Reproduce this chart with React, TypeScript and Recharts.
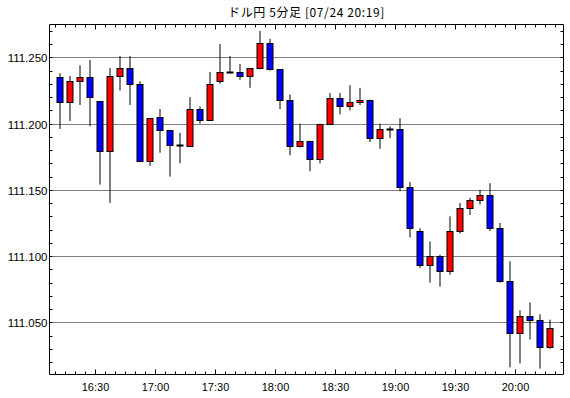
import { ComposedChart, Bar, XAxis, YAxis, CartesianGrid } from 'recharts';

// 5分足: 16:10 〜 20:15
const times = [
  '16:10', '16:15', '16:20', '16:25', '16:30', '16:35', '16:40', '16:45', '16:50', '16:55',
  '17:00', '17:05', '17:10', '17:15', '17:20', '17:25', '17:30', '17:35', '17:40', '17:45',
  '17:50', '17:55', '18:00', '18:05', '18:10', '18:15', '18:20', '18:25', '18:30', '18:35',
  '18:40', '18:45', '18:50', '18:55', '19:00', '19:05', '19:10', '19:15', '19:20', '19:25',
  '19:30', '19:35', '19:40', '19:45', '19:50', '19:55', '20:00', '20:05', '20:10', '20:15',
];
const opens = [
  111.235, 111.216, 111.232, 111.235, 111.217, 111.179, 111.236, 111.242, 111.230, 111.172,
  111.205, 111.195, 111.184, 111.183, 111.211, 111.203, 111.232, 111.239, 111.239, 111.236,
  111.242, 111.261, 111.241, 111.218, 111.183, 111.187, 111.173, 111.200, 111.219, 111.213,
  111.216, 111.218, 111.189, 111.196, 111.196, 111.152, 111.119, 111.093, 111.100, 111.089,
  111.119, 111.136, 111.142, 111.146, 111.121, 111.081, 111.042, 111.055, 111.052, 111.031,
];
const highs = [
  111.238, 111.236, 111.244, 111.248, 111.217, 111.242, 111.251, 111.251, 111.232, 111.204,
  111.211, 111.195, 111.193, 111.220, 111.213, 111.239, 111.260, 111.251, 111.245, 111.242,
  111.270, 111.264, 111.241, 111.222, 111.200, 111.187, 111.200, 111.223, 111.223, 111.229,
  111.227, 111.218, 111.200, 111.198, 111.204, 111.156, 111.121, 111.111, 111.101, 111.130,
  111.140, 111.144, 111.150, 111.155, 111.125, 111.096, 111.059, 111.065, 111.056, 111.052,
];
const lows = [
  111.196, 111.202, 111.214, 111.198, 111.154, 111.140, 111.225, 111.214, 111.171, 111.168,
  111.178, 111.160, 111.170, 111.183, 111.200, 111.203, 111.230, 111.238, 111.233, 111.227,
  111.241, 111.240, 111.211, 111.176, 111.182, 111.164, 111.170, 111.200, 111.207, 111.210,
  111.214, 111.186, 111.181, 111.189, 111.149, 111.114, 111.091, 111.080, 111.077, 111.086,
  111.117, 111.131, 111.139, 111.119, 111.080, 111.016, 111.019, 111.037, 111.015, 111.030,
];
const closes = [
  111.216, 111.232, 111.235, 111.220, 111.179, 111.236, 111.242, 111.230, 111.172, 111.204,
  111.195, 111.184, 111.184, 111.211, 111.203, 111.230, 111.239, 111.239, 111.236, 111.242,
  111.261, 111.241, 111.218, 111.183, 111.187, 111.173, 111.200, 111.219, 111.213, 111.216,
  111.218, 111.189, 111.196, 111.196, 111.152, 111.121, 111.093, 111.100, 111.089, 111.119,
  111.136, 111.142, 111.146, 111.121, 111.081, 111.042, 111.055, 111.052, 111.031, 111.046,
];
const timeLabels = ['16:30', '17:00', '17:30', '18:00', '18:30', '19:00', '19:30', '20:00'];
const priceLabels = [111.05, 111.1, 111.15, 111.2, 111.25];
const title = 'ドル円 5分足 [07/24 20:19]';

const Y_DOMAIN = [111.0106, 111.2748];
const X_DOMAIN = [7, 264];

const toMin = (s: string) => {
  const [h, m] = s.split(':').map(Number);
  return (h - 16) * 60 + m;
};

// ローソクの中心は足の開始時刻 + 2.5分
const data = times.map((t, i) => ({
  t: toMin(t) + 2.5,
  open: opens[i],
  high: highs[i],
  low: lows[i],
  close: closes[i],
}));

const xTicks: number[] = [];
for (let m = 10; m <= 260; m += 5) xTicks.push(m);
const majorX = timeLabels.map(toMin);

const yTicks: number[] = [];
for (let k = 11102; k <= 11127; k++) yTicks.push(k / 100);
const isMajorY = (v: number) => priceLabels.some(p => Math.abs(p - v) < 1e-6);

const FONT = '"Liberation Sans", Arial, sans-serif';

const fmtTime = (m: number) => {
  const h = 16 + Math.floor(m / 60);
  const mm = m % 60;
  return `${h}:${mm < 10 ? '0' + mm : mm}`;
};

const snap = (v: number) => Math.round(v) + 0.5;

const Candle = (props: any) => {
  const { x, y, width, height, payload } = props;
  const { open, high, low, close } = payload;
  const cx = x + width / 2;
  const top = Math.min(y, y + height);
  const h = Math.abs(height);
  const k = high > low ? h / (high - low) : 0;
  const yo = top + (high - open) * k;
  const yc = top + (high - close) * k;
  if (open === close) {
    return (
      <g>
        <line x1={cx} x2={cx} y1={top} y2={top + h} stroke="#000" strokeWidth={1} />
        <line x1={cx - 3.5} x2={cx + 3.5} y1={snap(yo)} y2={snap(yo)} stroke="#000" strokeWidth={2} />
      </g>
    );
  }
  const bTop = snap(Math.min(yo, yc));
  const bBot = snap(Math.max(yo, yc));
  return (
    <g>
      <line x1={cx} x2={cx} y1={top} y2={top + h} stroke="#000" strokeWidth={1} />
      <rect
        x={cx - 3}
        y={bTop}
        width={6}
        height={Math.max(bBot - bTop, 1)}
        fill={close > open ? '#ff0000' : '#0000ff'}
        stroke="#000"
        strokeWidth={1}
      />
    </g>
  );
};

const BottomTick = (props: any) => {
  const { x, y, payload } = props;
  const major = majorX.includes(payload.value);
  return (
    <g>
      <line x1={x} x2={x} y1={y} y2={y - (major ? 5 : 3)} stroke="#000" />
      {major && (
        <text x={x} y={y + 16} textAnchor="middle" fontSize={11} fontFamily={FONT} fill="#000">
          {fmtTime(payload.value)}
        </text>
      )}
    </g>
  );
};

const TopTick = (props: any) => {
  const { x, y, payload } = props;
  const major = majorX.includes(payload.value);
  return <line x1={x} x2={x} y1={y} y2={y + (major ? 5 : 3)} stroke="#000" />;
};

const LeftTick = (props: any) => {
  const { x, y, payload } = props;
  const major = isMajorY(payload.value);
  const yy = snap(y);
  return (
    <g>
      <line x1={x} x2={x + 3} y1={yy} y2={yy} stroke="#000" />
      {major && (
        <text x={x - 2} y={yy + 4} textAnchor="end" fontSize={11.5} fontFamily={FONT} fill="#000">
          {payload.value.toFixed(3)}
        </text>
      )}
    </g>
  );
};

const RightTick = (props: any) => {
  const { x, y } = props;
  const yy = snap(y);
  return <line x1={x} x2={x - 3} y1={yy} y2={yy} stroke="#000" />;
};

// 点線グリッドをピクセルに揃える
const gridY = ({ offset }: any) =>
  priceLabels.map(p =>
    snap(offset.top + ((Y_DOMAIN[1] - p) / (Y_DOMAIN[1] - Y_DOMAIN[0])) * offset.height)
  );

export default function App() {
  return (
    <div style={{ position: 'absolute', left: 0, top: 0, width: 570, height: 398, background: '#fff' }}>
      <div
        style={{
          position: 'absolute',
          left: 0,
          top: 5,
          width: 613,
          textAlign: 'center',
          fontFamily: '"Noto Sans CJK JP", sans-serif',
          fontSize: 12,
          lineHeight: '14px',
          letterSpacing: 0.6,
          color: '#000',
        }}
      >
        {title}
      </div>
      <ComposedChart
        width={570}
        height={398}
        data={data}
        margin={{ top: 0.5, right: 0.5, bottom: 0.5, left: 0.5 }}
      >
        <CartesianGrid
          vertical={false}
          horizontalCoordinatesGenerator={gridY}
          stroke="#000"
          strokeDasharray="1 1"
        />
        <XAxis
          dataKey="t"
          type="number"
          domain={X_DOMAIN}
          allowDataOverflow
          ticks={xTicks}
          interval={0}
          height={23}
          tickSize={0}
          tickMargin={0}
          tickLine={false}
          axisLine={{ stroke: '#000' }}
          tick={<BottomTick />}
        />
        <XAxis
          xAxisId="top"
          orientation="top"
          dataKey="t"
          type="number"
          domain={X_DOMAIN}
          allowDataOverflow
          ticks={xTicks}
          interval={0}
          height={24}
          tickSize={0}
          tickMargin={0}
          tickLine={false}
          axisLine={{ stroke: '#000' }}
          tick={<TopTick />}
        />
        <YAxis
          type="number"
          domain={Y_DOMAIN}
          allowDataOverflow
          ticks={yTicks}
          interval={0}
          width={49}
          tickSize={0}
          tickMargin={0}
          tickLine={false}
          axisLine={{ stroke: '#000' }}
          tick={<LeftTick />}
        />
        <YAxis
          yAxisId="right"
          orientation="right"
          type="number"
          domain={Y_DOMAIN}
          allowDataOverflow
          ticks={yTicks}
          interval={0}
          width={6}
          tickSize={0}
          tickMargin={0}
          tickLine={false}
          axisLine={{ stroke: '#000' }}
          tick={<RightTick />}
        />
        <Bar
          dataKey={(d: any) => [d.low, d.high]}
          barSize={7}
          shape={<Candle />}
          isAnimationActive={false}
        />
      </ComposedChart>
    </div>
  );
}
